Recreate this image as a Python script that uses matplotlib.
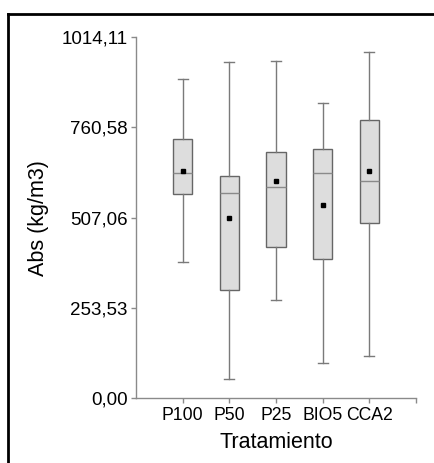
import numpy as np
import matplotlib
matplotlib.use("Agg")
import matplotlib.pyplot as plt
from matplotlib.lines import Line2D

plt.rcParams['font.family'] = ['Liberation Sans', 'DejaVu Sans']

# data
tratamientos = ["P100", "P50", "P25", "BIO5", "CCA2"]
whis_hi = [896, 944, 947, 829, 972]
q3 = [728, 624, 690, 700, 782]
mediana = [632, 575, 593, 632, 610]
media = [638, 505, 610, 543, 638]
q1 = [573, 305, 426, 390, 492]
whis_lo = [383, 53, 275, 99, 120]
yticks = [0.00, 253.53, 507.06, 760.58, 1014.11]

stats = []
for i in range(len(tratamientos)):
    stats.append(dict(label=tratamientos[i], whislo=whis_lo[i], q1=q1[i],
                      med=mediana[i], q3=q3[i], whishi=whis_hi[i],
                      mean=media[i], fliers=[]))

fig = plt.figure(figsize=(4.34, 4.63), dpi=100)
ax = fig.add_axes([0.3134, 0.1397, 0.6451, 0.7804])

gris = "#7a7a7a"
ax.bxp(stats, positions=np.arange(1, 6), widths=0.42, patch_artist=True,
       showmeans=True,
       boxprops=dict(facecolor="#dddddd", edgecolor="#666666", linewidth=1.0),
       medianprops=dict(color="#8a8a8a", linewidth=1.0),
       whiskerprops=dict(color=gris, linewidth=1.0),
       capprops=dict(color=gris, linewidth=1.0),
       meanprops=dict(marker="s", markerfacecolor="black",
                      markeredgecolor="black", markersize=2.5))

ax.set_xlim(0, 6)
ax.set_ylim(0, 1014.11)
ax.set_yticks(yticks)
ax.set_yticklabels([("%.2f" % v).replace(".", ",") for v in yticks])
ax.set_xticks([1, 2, 3, 4, 5, 6])
ax.set_xticklabels(tratamientos + [""])

for s in ["top", "right"]:
    ax.spines[s].set_visible(False)
for s in ["left", "bottom"]:
    ax.spines[s].set_color("#8a8a8a")
    ax.spines[s].set_linewidth(1.0)
ax.tick_params(colors="#8a8a8a", labelcolor="black", length=3.5, width=1.0,
               pad=2.5)
ax.tick_params(axis="y", labelsize=13.5)
ax.tick_params(axis="x", labelsize=12.7, pad=3)

ax.set_xlabel("Tratamiento", fontsize=15.5, labelpad=5.5)
ax.set_ylabel("Abs (kg/m3)", fontsize=15.5, labelpad=9)

# frame of the original panel
fig.add_artist(Line2D([8 / 434, 1], [1 - 14 / 463, 1 - 14 / 463],
                      transform=fig.transFigure, color="black", linewidth=2))
fig.add_artist(Line2D([8 / 434, 8 / 434], [0, 1 - 14 / 463],
                      transform=fig.transFigure, color="black", linewidth=2))

fig.savefig("out.png", dpi=100)
